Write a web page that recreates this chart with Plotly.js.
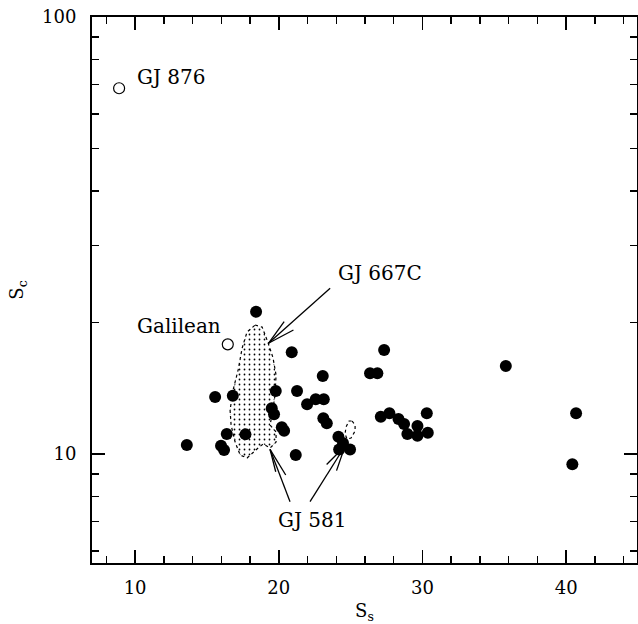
<!DOCTYPE html>
<html>
<head>
<meta charset="utf-8">
<script src="https://cdn.plot.ly/plotly-3.0.1.min.js"></script>
<style>html,body{margin:0;padding:0;background:#fff;}#chart{width:638px;height:624px;}</style>
</head>
<body>
<div id="chart"></div>
<script>
// ---- data ----
// filled points (S_s, S_c)
var filledX = [18.42, 20.9, 23.06, 15.57, 16.8, 19.79, 21.27, 21.97, 22.57, 23.13,
               19.51, 19.67, 20.21, 20.37, 23.1, 23.34, 16.38, 17.68, 13.6, 15.98,
               16.19, 21.18, 24.15, 24.2, 24.96, 24.47, 26.35, 26.86, 27.33, 35.8,
               27.1, 27.7, 28.33, 28.72, 28.95, 29.65, 29.65, 30.3, 30.37, 40.69, 40.43];
var filledY = [21.16, 17.09, 15.08, 13.5, 13.59, 13.94, 13.94, 12.99, 13.34, 13.34,
               12.72, 12.33, 11.51, 11.30, 12.07, 11.76, 11.11, 11.09, 10.48, 10.45,
               10.21, 9.95, 10.95, 10.24, 10.24, 10.6, 15.3, 15.3, 17.3, 15.9,
               12.17, 12.39, 12.02, 11.71, 11.11, 11.59, 11.01, 12.39, 11.19, 12.39, 9.47];
// open points
var openX = [8.886, 16.45];
var openY = [68.7, 17.82];
// GJ 667C region outline
var regionX = [18.35, 18.84, 19.26, 19.60, 19.81, 19.74, 19.53, 19.39, 19.81, 19.81, 19.39,
               18.91, 18.56, 17.79, 17.31, 16.96, 16.68, 16.61, 16.82, 17.17, 17.45, 17.79, 18.35];
var regionY = [19.73, 19.52, 17.95, 16.59, 15.16, 13.65, 12.28, 11.65, 11.23, 10.65, 10.32,
               10.54, 10.32, 9.79, 9.95, 10.65, 11.65, 12.61, 14.01, 15.57, 17.48, 19.01, 19.73];
// GJ 581 region outline
var smallX = [25.10, 25.31, 25.31, 25.03, 24.75, 24.61, 24.68, 24.89, 25.10];
var smallY = [11.9, 11.65, 11.29, 10.88, 10.82, 11.11, 11.53, 11.9, 11.9];
// labels
var labelText = ['GJ 876', 'Galilean', 'GJ 667C', 'GJ 581'];
var labelX = [10.0, 10.0, 23.99, 19.79];
var labelY = [72.9, 19.63, 25.96, 7.06];
// arrows: tip in data; tail & barb ends as pixel offsets from the tip
var arrowTipX = [19.28, 19.39, 24.61];
var arrowTipY = [17.92, 10.25, 10.43];
var arrowTail = [[61.7, -55], [20, 52.4], [-35, 55.7]];
var arrowBarbs = [[[15.7, -21.6], [25, -13.3]], [[5.7, 22.4], [15.7, 25.7]], [[-8.5, 24.6], [-18.4, 18.4]]];
var xTicks = [10, 20, 30, 40];
var yTicks = [10, 100];
var yMinor = [6, 7, 8, 9, 20, 30, 40, 50, 60, 70, 80, 90];

var FONT = 'DejaVu Serif, serif';
var W = 638, H = 624, M = {l: 92, r: 1, t: 17, b: 61};
var XR = [7, 44.93], YR = [0.7506, 2.0];
var pxX = (XR[1] - XR[0]) / (W - M.l - M.r);
var pxY = (YR[1] - YR[0]) / (H - M.t - M.b);
function offX(x, dx) { return x + dx * pxX; }
function offY(y, dy) { return Math.pow(10, Math.log10(y) - dy * pxY); }

var traces = [
  {x: regionX, y: regionY, mode: 'lines', fill: 'toself', hoverinfo: 'skip',
   line: {color: 'black', width: 1.2, dash: 'dot'},
   fillcolor: 'white',
   fillpattern: {shape: '.', size: 5, solidity: 0.1, fgcolor: 'black', bgcolor: 'white'}},
  {x: smallX, y: smallY, mode: 'lines', hoverinfo: 'skip',
   line: {color: 'black', width: 1.2, dash: 'dot'}}
];

// arrows as line traces
var ax = [], ay = [];
for (var j = 0; j < arrowTipX.length; j++) {
  var segs = [arrowTail[j]].concat(arrowBarbs[j]);
  for (var k = 0; k < segs.length; k++) {
    ax.push(arrowTipX[j], offX(arrowTipX[j], segs[k][0]), null);
    ay.push(arrowTipY[j], offY(arrowTipY[j], segs[k][1]), null);
  }
}
traces.push({x: ax, y: ay, mode: 'lines', hoverinfo: 'skip', connectgaps: false,
  line: {color: 'black', width: 1.3}});

traces.push({x: filledX, y: filledY, mode: 'markers', hoverinfo: 'skip',
   marker: {size: 12, color: 'black', line: {width: 0}}});
traces.push({x: openX, y: openY, mode: 'markers', hoverinfo: 'skip',
   marker: {size: 11, color: 'white', line: {width: 1.2, color: 'black'}}});

var annotations = [];
for (var i = 0; i < labelText.length; i++) {
  annotations.push({x: labelX[i], y: Math.log10(labelY[i]), xref: 'x', yref: 'y',
    text: labelText[i], showarrow: false, xanchor: 'left', yanchor: 'middle',
    font: {family: FONT, size: 20, color: 'black'}});
}

var layout = {
  width: W, height: H,
  margin: M,
  paper_bgcolor: 'white', plot_bgcolor: 'white',
  showlegend: false,
  font: {family: FONT, size: 18, color: 'black'},
  xaxis: {range: XR, showgrid: false, zeroline: false,
    showline: true, linecolor: 'black', linewidth: 2, mirror: 'ticks',
    ticks: 'inside', ticklen: 13, tickwidth: 1.5, tickcolor: 'black',
    tickvals: xTicks, ticktext: xTicks.map(String), ticklabelstandoff: 7,
    tickfont: {family: FONT, size: 18, color: 'black'},
    minor: {dtick: 2, tick0: 0, ticks: 'inside', ticklen: 7, tickwidth: 1.5, tickcolor: 'black', showgrid: false},
    title: {text: 'S<sub>s</sub>', font: {family: FONT, size: 18, color: 'black'}, standoff: 8}},
  yaxis: {type: 'log', range: YR, showgrid: false, zeroline: false,
    showline: true, linecolor: 'black', linewidth: 2, mirror: 'ticks',
    ticks: 'inside', ticklen: 13, tickwidth: 1.5, tickcolor: 'black',
    tickvals: yTicks, ticktext: yTicks.map(String), ticklabelstandoff: 10,
    tickfont: {family: FONT, size: 18, color: 'black'},
    minor: {tickvals: yMinor, ticks: 'inside', ticklen: 7, tickwidth: 1.5, tickcolor: 'black', showgrid: false},
    title: {text: 'S<sub>c</sub>', font: {family: FONT, size: 18, color: 'black'}, standoff: 14}},
  annotations: annotations
};

Plotly.newPlot('chart', traces, layout, {staticPlot: true, displayModeBar: false});
</script>
</body>
</html>
